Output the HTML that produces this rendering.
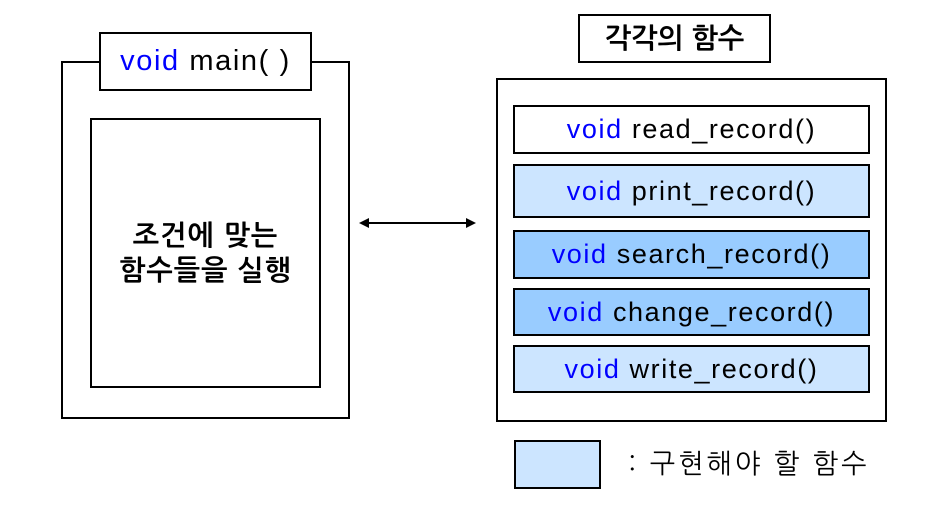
<!DOCTYPE html>
<html><head><meta charset="utf-8"><style>
body{margin:0;width:946px;height:516px;background:#fff;position:relative;overflow:hidden;font-family:"Liberation Sans","NanumGothic",sans-serif}
.b{position:absolute;border:2px solid #000;box-sizing:border-box;background:#fff}
.r{display:flex;align-items:center;justify-content:center;font-size:27px;letter-spacing:1.6px;color:#000}
.v{color:#0000ff}
.l{background:#cce5ff}.d{background:#99ccff}
.k{font-family:"NanumGothic","Noto Sans CJK KR",sans-serif;font-weight:bold}
</style></head><body>
<div class="b" style="left:61px;top:61px;width:289px;height:358px"></div>
<div class="b r" style="left:99px;top:32px;width:213px;height:59px;font-size:29px"><span><span class="v">void</span> main( )</span></div>
<div class="b" style="left:90px;top:118px;width:231px;height:270px"></div>
<div class="k" style="position:absolute;left:90px;top:219px;width:231px;text-align:center;font-size:28px;line-height:35px;letter-spacing:1px">조건에 맞는<br>함수들을 실행</div>
<svg style="position:absolute;left:355px;top:213px" width="125" height="20">
<line x1="10" y1="10" x2="115" y2="10" stroke="#000" stroke-width="2"/>
<polygon points="4,10 14,5 14,15" fill="#000"/><polygon points="121,10 111,5 111,15" fill="#000"/>
</svg>
<div class="b" style="left:496px;top:78px;width:391px;height:344px"></div>
<div class="b r k" style="left:578px;top:14px;width:193px;height:49px;font-size:28px;letter-spacing:0">각각의 함수</div>
<div class="b r" style="left:513px;top:105px;width:357px;height:49px"><span><span class="v">void</span> read_record()</span></div>
<div class="b r l" style="left:513px;top:164px;width:357px;height:54px"><span><span class="v">void</span> print_record()</span></div>
<div class="b r d" style="left:513px;top:230px;width:357px;height:49px"><span><span class="v">void</span> search_record()</span></div>
<div class="b r d" style="left:513px;top:288px;width:357px;height:48px"><span><span class="v">void</span> change_record()</span></div>
<div class="b r l" style="left:513px;top:345px;width:357px;height:48px"><span><span class="v">void</span> write_record()</span></div>
<div class="b l" style="left:514px;top:440px;width:87px;height:49px"></div>
<div style="position:absolute;left:628px;top:447px;font-size:27px;letter-spacing:3px;font-family:'NanumGothic','Noto Sans CJK KR',sans-serif">: 구현해야 할 함수</div>
</body></html>
